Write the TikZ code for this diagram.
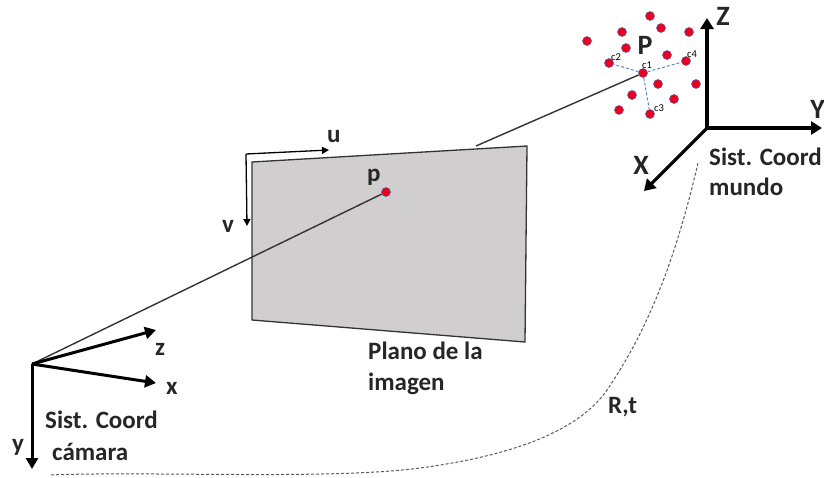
\documentclass[tikz,border=0pt]{standalone}
\usepackage{fontspec}
\setmainfont{Carlito}
\usetikzlibrary{arrows.meta}
\definecolor{dotred}{RGB}{235,0,30}
\definecolor{dotblue}{RGB}{75,95,170}
\definecolor{planegray}{RGB}{208,206,206}
\definecolor{linkblue}{RGB}{85,135,205}
\tikzset{
  x=1pt,y=-1pt,
  lbl/.style={font=\bfseries\fontsize{25}{30}\selectfont,inner sep=0pt,text=black!85,anchor=base west},
  axislbl/.style={font=\bfseries\fontsize{28}{30}\selectfont,inner sep=0pt,text=black!85},
  small/.style={font=\fontsize{10.5}{12}\selectfont,inner sep=0pt},
  pt/.style={circle,fill=dotred,draw=dotblue,line width=.5pt,minimum size=9pt,inner sep=0pt},
  thickaxis/.style={line width=3.2pt,-{Triangle[length=11pt,width=13pt]}},
  midaxis/.style={line width=3pt,-{Triangle[length=11pt,width=12pt]}},
  uv/.style={line width=1.3pt,-{Triangle[length=7pt,width=7pt]}},
  ray/.style={line width=1.4pt,black!80},
  link/.style={line width=1pt,linkblue,densely dashed},
}
\begin{document}
\begin{tikzpicture}
\useasboundingbox (0,0) rectangle (824,477);
% plane
\coordinate (pa) at (252,162);
\coordinate (pb) at (527,146);
\coordinate (pc) at (525,342);
\coordinate (pd) at (252,320);
\draw[fill=planegray,draw=black!80,line width=1.3pt] (pa) -- (pb) -- (pc) -- (pd) -- cycle;
% camera
\coordinate (co) at (32,364);
\coordinate (cz) at (156,330);
\coordinate (cx) at (156,383);
\coordinate (cy) at (32,469);
% points
\node[pt] (p) at (386,192) {};
\node[pt] (c1) at (643,73) {};
\node[pt] (c2) at (609,63) {};
\node[pt] (c3) at (650,114) {};
\node[pt] (c4) at (686,61) {};
\node[pt] (d1) at (650,16) {};
\node[pt] (d2) at (661,28) {};
\node[pt] (d3) at (622,32) {};
\node[pt] (d4) at (689,32) {};
\node[pt] (d5) at (587,41) {};
\node[pt] (d6) at (626,48) {};
\node[pt] (d7) at (667,55) {};
\node[pt] (d8) at (658,84) {};
\node[pt] (d9) at (696,84) {};
\node[pt] (d10) at (632,95) {};
\node[pt] (d11) at (674,99) {};
\node[pt] (d12) at (619,110) {};
% rays
\draw[ray] (co) -- (p);
\coordinate (rs) at (476,146);
\draw[ray] (rs) -- (c1);
\draw[link] (c1) -- (c2);
\draw[link] (c1) -- (c3);
\draw[link] (c1) -- (c4);
% camera axes
\draw[midaxis] (co) -- (cz);
\draw[midaxis] (co) -- (cx);
\draw[midaxis] (co) -- (cy);
% world axes
\coordinate (wo) at (707,128);
\coordinate (wz) at (707,18);
\coordinate (wy) at (822,128);
\coordinate (wx) at (644,191);
\draw[thickaxis] (wo) -- (wz);
\draw[thickaxis] (wo) -- (wy);
\draw[thickaxis] (wo) -- (wx);
% uv
\coordinate (uvo) at (246,154);
\coordinate (ue) at (329,150);
\coordinate (ve) at (247,226);
\draw[uv] (uvo) -- (ue);
\draw[uv] (uvo) -- (ve);
% Rt curve
\coordinate (ra) at (698,163);
\coordinate (rb) at (50,475);
\draw[line width=1pt,black!65,densely dashed] (ra) .. controls (680,240) and (655,320) .. (607,390) .. controls (578,432) and (510,456) .. (420,468) .. controls (330,480) and (150,471) .. (rb);
% labels
\node[axislbl] (lZ) at (723,16) {Z};
\node[axislbl,anchor=east] (lY) at (825,109) {Y};
\node[axislbl] (lX) at (641,165) {X};
\node[axislbl] (lP) at (645,45) {P};
\node[lbl] (lp) at (367,181) {p};
\node[lbl] (lu) at (327,142) {u};
\node[lbl] (lv) at (222,232) {v};
\node[lbl] (lz) at (155,355) {z};
\node[lbl] (lx) at (166,394) {x};
\node[lbl] (ly) at (12,451) {y};
\node[lbl] (lw) at (709,165) {Sist. Coord};
\node[lbl] (lw2) at (709,195) {mundo};
\node[lbl] (lc) at (45,428) {Sist. Coord};
\node[lbl] (lc2) at (52,460) {cámara};
\node[lbl] (lpl) at (368,359) {Plano de la};
\node[lbl] (lpl2) at (368,390) {imagen};
\node[lbl] (lrt) at (608,413) {R,t};
\node[small] (n1) at (647,65) {c1};
\node[small] (n2) at (616,57) {c2};
\node[small] (n3) at (659,108) {c3};
\node[small] (n4) at (692,54) {c4};
\end{tikzpicture}
\end{document}
